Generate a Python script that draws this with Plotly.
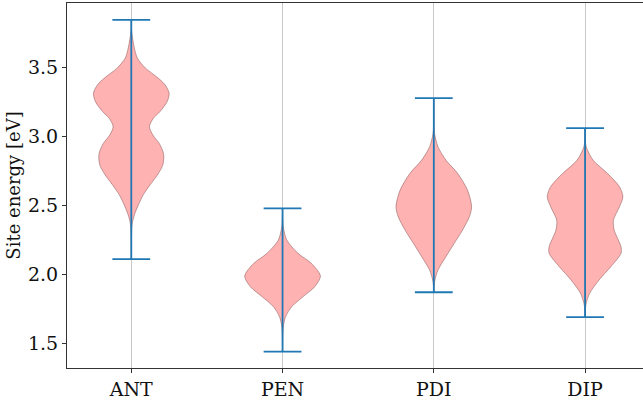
import plotly.graph_objects as go

categories = ["ANT", "PEN", "PDI", "DIP"]
mins = [2.11, 1.44, 1.87, 1.69]
maxs = [3.845, 2.478, 3.277, 3.06]

# Kernel-density profiles: (energy levels, relative density)
ant_e = [3.76, 3.641, 3.568, 3.496, 3.423, 3.375, 3.314, 3.253, 3.18, 3.13, 3.07, 3.01,
         2.949, 2.888, 2.852, 2.79, 2.72, 2.65, 2.578, 2.505, 2.43, 2.36, 2.25]
ant_d = [0.01, 0.08, 0.16, 0.37, 0.71, 0.89, 1.0, 0.95, 0.76, 0.58, 0.48, 0.57,
         0.74, 0.84, 0.86, 0.83, 0.69, 0.50, 0.32, 0.19, 0.08, 0.02, 0.004]
pen_e = [2.40, 2.345, 2.249, 2.152, 2.08, 1.988, 1.91, 1.838, 1.765, 1.693, 1.62, 1.53]
pen_d = [0.005, 0.02, 0.11, 0.41, 0.76, 1.0, 0.85, 0.54, 0.24, 0.08, 0.02, 0.004]
pdi_e = [3.12, 3.022, 2.925, 2.828, 2.732, 2.611, 2.49, 2.417, 2.321, 2.225, 2.128, 2.031, 1.959, 1.92]
pdi_d = [0.004, 0.02, 0.11, 0.32, 0.63, 0.89, 1.0, 0.94, 0.76, 0.54, 0.32, 0.11, 0.03, 0.01]
dip_e = [2.98, 2.925, 2.828, 2.732, 2.635, 2.562, 2.49, 2.393, 2.321, 2.2, 2.152, 2.055,
         1.959, 1.862, 1.79, 1.74]
dip_d = [0.005, 0.03, 0.21, 0.59, 0.91, 1.0, 0.91, 0.75, 0.77, 0.95, 0.95, 0.68,
         0.37, 0.12, 0.03, 0.005]

profiles = [(ant_e, ant_d), (pen_e, pen_d), (pdi_e, pdi_d), (dip_e, dip_d)]

HALF = 0.25   # half violin width in axis units
CAP = 0.125   # half cap width
BLUE = "#1f77b4"

fig = go.Figure()

for i, (e, d) in enumerate(profiles):
    pos = i + 1
    ys = [maxs[i]] + list(e) + [mins[i]]
    ds = [0.0] + list(d) + [0.0]
    xr = [pos + HALF * v for v in ds]
    xl = [pos - HALF * v for v in ds]
    x = xr + xl[::-1]
    y = ys + ys[::-1]
    fig.add_trace(go.Scatter(
        x=x, y=y, mode="lines", fill="toself",
        fillcolor="rgba(255,0,0,0.3)",
        line=dict(color="rgba(140,90,90,0.55)", width=1, shape="spline", smoothing=0.8),
        hoverinfo="skip", showlegend=False))

# extrema bars and caps
lx, ly = [], []
for i in range(len(categories)):
    pos = i + 1
    lx += [pos, pos, None, pos - CAP, pos + CAP, None, pos - CAP, pos + CAP, None]
    ly += [mins[i], maxs[i], None, maxs[i], maxs[i], None, mins[i], mins[i], None]
fig.add_trace(go.Scatter(x=lx, y=ly, mode="lines", line=dict(color=BLUE, width=1.8),
                         hoverinfo="skip", showlegend=False))

font = dict(family="DejaVu Serif", size=19, color="#111111")
title_font = dict(family="DejaVu Serif", size=18, color="#111111")

fig.update_layout(
    width=643, height=403,
    margin=dict(l=67, r=0, t=3, b=35),
    paper_bgcolor="white", plot_bgcolor="white",
    font=font,
    xaxis=dict(range=[0.575, 4.383], tickvals=[1, 2, 3, 4], ticktext=categories,
               showgrid=True, gridcolor="#c8c8c8", gridwidth=1,
               showline=True, linecolor="#333333", linewidth=1.2, mirror=True,
               ticks="outside", ticklen=4, tickcolor="#333333", zeroline=False,
               tickfont=font),
    yaxis=dict(range=[1.321, 3.967], tickvals=[1.5, 2.0, 2.5, 3.0, 3.5],
               ticktext=["1.5", "2.0", "2.5", "3.0", "3.5"],
               showgrid=False, showline=True, linecolor="#333333", linewidth=1.2,
               ticks="outside", ticklen=4, tickcolor="#333333", zeroline=False,
               tickfont=font,
               title=dict(text="Site energy [eV]", font=title_font, standoff=2)),
)

fig.write_html("out.html")
